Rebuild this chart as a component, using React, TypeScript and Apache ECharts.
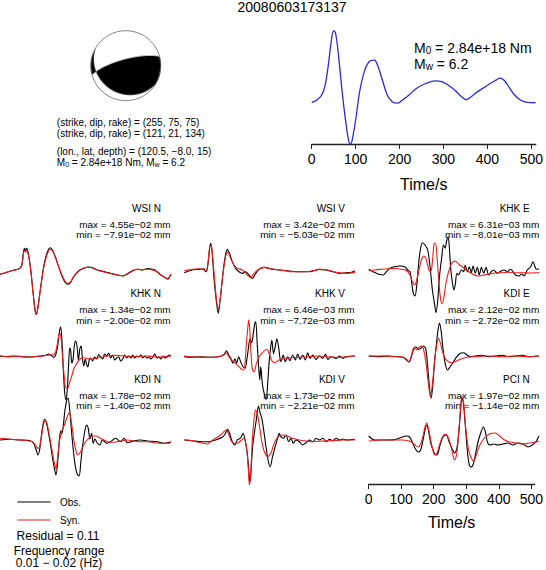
import React, { useEffect, useRef } from 'react';
import * as echarts from 'echarts';

// ---------------- data ----------------
const TITLE = '20080603173137';
const FM1 = [255, 75, 75];
const FM2 = [121, 21, 134];
const LOCATION = ['120.5', '−8.0', '15'];
const M0_TEXT = '2.84e+18';
const MW_TEXT = '6.2';
const RESIDUAL = '0.11';
const FREQ = ['0.01', '0.02'];
const timeTicks = [0, 100, 200, 300, 400, 500];

const stfTime = [0, 11.2, 22.4, 29.9, 37.4, 44.9, 50.1, 54.6, 62.1, 69.6, 77.1, 84.6, 88.4, 93.6, 101.1, 108.6, 119.8, 131.1, 142.3, 149.8, 161, 172.3, 183.5, 194.8, 206, 221, 239.7, 258.5, 281, 296, 311, 326, 341, 352, 363, 378, 393, 408, 419.6, 429, 438, 449.6, 460.8, 475.8, 490.8, 509.5];
const stfValue = [0, 0.03, 0.1, 0.22, 0.5, 0.87, 1.0, 0.96, 0.59, 0.13, -0.25, -0.55, -0.58, -0.48, -0.2, 0.13, 0.43, 0.57, 0.59, 0.52, 0.31, 0.1, 0.01, -0.01, 0.03, 0.1, 0.2, 0.26, 0.3, 0.29, 0.24, 0.17, 0.08, 0.04, 0.08, 0.15, 0.21, 0.27, 0.31, 0.34, 0.31, 0.21, 0.11, 0.03, 0, -0.005];

const stations = ['WSI N', 'WSI V', 'KHK E', 'KHK N', 'KHK V', 'KDI E', 'KDI N', 'KDI V', 'PCI N'];
const maxLabels = ['4.55e−02', '3.42e−02', '6.31e−03', '1.34e−02', '6.46e−03', '2.12e−02', '1.78e−02', '1.73e−02', '1.97e−02'];
const minLabels = ['−7.91e−02', '−5.03e−02', '−8.01e−03', '−2.00e−02', '−7.72e−03', '−2.72e−02', '−1.40e−02', '−2.21e−02', '−1.14e−02'];

// waveforms: [time s, relative amplitude]
const wsiN_obs = [[0,-1],[20,1],[40,3],[58,4.7],[65,8.3],[70,21],[73,25],[77,22.5],[80,25],[85,19],[92,3],[98,-17],[104,-35],[108,-41],[113,-34],[120,-17],[130,6.5],[138,18],[145,24],[150,25.5],[157,23],[165,16.5],[175,6.5],[185,-3],[195,-9.5],[202,-11],[210,-9.3],[220,-3.3],[235,2.3],[250,5],[265,6.3],[275,5.7],[290,3.3],[310,1.7],[330,0],[350,-1.7],[368,-2.7],[380,-0.7],[395,2.3],[410,4],[425,3.3],[440,4.7],[455,4],[465,2.7],[480,-1.7],[495,-5],[500,-6],[505,-4],[510,-0.7]];
const wsiN_syn = [[0,-1],[20,1],[40,3],[58,4.7],[65,8],[70,19.5],[73,23],[77,21],[80,22],[86,16],[92,2],[98,-18],[104,-36],[108,-41.5],[113,-35],[120,-17.5],[130,5],[138,16],[145,22.5],[150,24],[157,22],[165,16],[175,6.5],[185,-2],[195,-8.5],[202,-10],[210,-8.7],[220,-3],[235,2.7],[250,5.3],[265,6],[275,5.3],[290,3.3],[310,1.3],[330,-0.3],[350,-1.7],[368,-2.3],[380,-0.3],[395,2.7],[410,4],[425,3.7],[440,4],[455,3.3],[465,2],[480,-2],[495,-4.7],[500,-5.3],[505,-3.5],[510,-1.5]];
const wsiV_obs = [[1,-1],[24,1.7],[44,2.3],[59,3],[64,0],[69,2.3],[74,15],[79,28.3],[84,20],[89,-5],[96,-28],[102,-41.7],[108,-28],[114,-8.3],[122,13.3],[129,22.3],[136,18],[144,10],[154,3.3],[164,0],[174,-1.7],[184,0],[194,-3.3],[204,-6.7],[214,-1.7],[224,2.3],[239,4.3],[259,2.7],[284,1.7],[314,0.7],[344,0],[374,0],[404,2.3],[424,1.7],[444,0],[464,-1.7],[484,-1],[500,-0.5],[510,1]];
const wsiV_syn = [[1,1],[24,2.3],[44,3],[59,1.7],[66,0.7],[72,10],[78,26.7],[82,25],[88,5],[96,-25],[102,-38],[108,-26.7],[116,-3.3],[124,15],[131,20],[139,13.3],[149,6.7],[159,3.3],[174,1.7],[189,-3.3],[199,-5.7],[209,-1.7],[222,2.3],[239,4.3],[264,2.7],[294,1.3],[324,0],[354,0],[384,0.7],[404,2.3],[429,1.7],[454,-0.7],[484,-1.7],[510,-0.7]];
const khkE_obs = [[0,0.7],[13,-1.7],[28,-4],[43,-5],[53,-1.7],[63,1.7],[78,3.3],[93,4],[108,3.3],[116,0],[123,-1.7],[128,-11.7],[133,-23.3],[138,-26],[143,-16.7],[148,3.3],[154,20],[160,27.3],[168,25],[176,20],[183,3.3],[190,-20],[196,-33.3],[201,-42.7],[206,-30],[211,-6.7],[218,13.3],[223,25],[228,21.7],[233,30],[237,33.3],[241,20],[245,0],[250,-13.3],[254,-20],[258,-15],[263,-3.3],[268,-5],[276,0],[283,-1.7],[288,5],[294,-1.7],[300,3.3],[306,-2.7],[311,4],[318,-3.3],[324,2.7],[330,-5],[336,2.7],[343,-3.3],[350,2.7],[358,-5],[366,-1.5],[373,0],[383,-3.3],[393,-1.5],[403,0],[413,-1.5],[423,0.7],[430,-1.5],[438,-5],[448,-6],[456,-4],[463,-6],[473,0],[483,3.3],[490,8.3],[496,3.3],[500,0.7],[508,1.3]];
const khkE_syn = [[0,-1],[18,0],[38,0.7],[58,1.3],[78,1.7],[98,0.7],[113,-0.7],[123,-5],[131,-12],[137,-15],[144,-9],[152,3],[158,11],[164,14],[170,12],[176,5],[182,-2],[187,0],[191,12],[195,26],[199,27],[204,12],[209,-10],[214,-28],[219,-34],[224,-28],[230,-14],[238,-2],[248,7],[258,9],[268,6],[280,3],[295,-1],[310,-4],[325,-6],[340,-5.3],[360,-4],[380,-3],[400,-2.7],[420,-2.3],[440,-2.7],[460,-2.7],[480,-3],[500,-2.7],[508,-2.5]];
const khkN_obs = [[0,0],[20,-0.7],[40,0],[60,-0.3],[80,-1],[100,-0.7],[120,0],[135,0.5],[145,2],[152,1],[160,-1.3],[166,1],[172,10],[177,24],[181,29],[185,14],[189,-15],[193,-37],[197,-44],[201,-32],[205,-6],[208,8],[211,5],[214,-7],[218,-3],[222,11],[226,15],[230,9],[234,-4],[238,7],[242,10],[246,-3],[250,-10],[254,-3],[258,-8],[262,-11],[266,-4],[270,-2],[276,-5],[282,-1],[288,-3],[294,1.5],[300,-1],[306,-3],[312,2],[318,0],[324,3],[330,-2],[336,1],[342,-4],[348,-2],[354,-1],[360,-5],[366,-3],[372,1],[378,-2],[384,0],[390,-2],[396,1],[402,-2],[408,0],[414,-1],[420,1],[426,-2],[432,0],[438,-2],[444,-1],[450,-3],[456,-1],[462,2],[468,-2],[474,-1],[480,-3],[486,0],[492,-2],[498,-1],[504,1],[510,0]];
const khkN_syn = [[0,0],[30,-0.7],[60,-0.7],[90,-1],[120,-0.3],[140,0.7],[150,1],[160,1.3],[166,4],[171,12],[175,20],[179,23],[183,15],[187,-3],[192,-22],[197,-32],[202,-32],[208,-26],[214,-20],[220,-13],[228,-8],[236,-4],[245,-2],[255,-2],[265,-3],[280,-2.7],[300,-1.3],[320,0],[340,0.7],[360,0.3],[380,-0.3],[400,-0.7],[420,-0.3],[440,0],[460,-0.7],[480,-1],[500,-0.3],[510,0]];
const khkV_obs = [[0,0],[20,-0.5],[50,0],[80,-0.5],[110,0.5],[120,2.5],[127,6],[133,2],[140,-2],[146,-6.5],[152,-2],[157,-6.5],[163,0],[169,-5],[176,-10],[182,-11.5],[187,-4],[192,8],[197,18],[202,14],[207,24],[211,33],[214,35],[218,15],[222,-6.7],[226,-23],[229,-10],[234,-28],[240,-38],[245,-43],[250,-25],[254,-5],[258,8],[262,16.7],[267,3],[272,10],[277,18],[282,10],[289,-5],[296,1.7],[302,-5],[309,0],[316,-4],[324,1.7],[332,-3.3],[339,2.7],[346,-2.7],[354,1.7],[362,-3.3],[369,4],[376,-1.7],[384,1.7],[394,-2.7],[404,0.7],[414,-1.7],[422,2.7],[429,-2.7],[439,0],[454,-1.7],[464,0.7],[474,-1.7],[484,0],[510,0.7]];
const khkV_syn = [[0,0.7],[24,0],[64,-0.7],[104,0],[119,1.7],[126,4],[134,0],[144,-4],[154,-6.7],[164,-10],[172,-12.7],[178,-13.3],[182,-6.7],[186,13],[190,28],[193,37],[196,28],[200,2],[204,-13],[209,-15],[216,-6.7],[224,0],[232,3.3],[240,6],[247,7.5],[255,2],[262,-4],[270,-6],[285,-3],[300,-2],[320,-1],[340,-0.7],[370,0],[400,0.7],[430,0],[460,-0.7],[490,0],[510,0.7]];
const kdiE_obs = [[0,0],[28,-0.7],[58,0],[88,-0.7],[103,-1.3],[113,-4],[120,-6.3],[126,-2.3],[133,6],[140,9.3],[148,6.7],[156,7.7],[163,10],[170,7.7],[176,-10.7],[181,-30.7],[186,-42.3],[191,-30],[196,-7.3],[201,9.3],[206,24],[211,33],[216,25],[222,6],[228,-7.3],[235,-14],[243,-10.7],[253,-5.7],[263,-0.7],[273,2.7],[283,3.3],[293,1],[303,-0.7],[318,0],[338,0.7],[358,-0.7],[378,0],[398,0.7],[418,-0.7],[438,0],[458,0.7],[478,-0.7],[508,0]];
const kdiE_syn = [[0,0],[38,0],[78,-0.7],[103,-1.3],[113,-3.3],[120,-5.7],[128,1],[135,8.7],[143,6],[150,8.7],[158,10],[164,6],[171,-7.3],[178,-27.3],[184,-40.7],[190,-28],[196,-7.3],[202,9.3],[208,17.7],[214,12.7],[220,4.3],[228,-2.3],[238,-5.7],[248,-6.7],[258,-5.7],[273,-3.3],[293,-1.3],[318,-0.7],[358,0],[398,-0.7],[438,0],[478,-0.7],[508,0]];
const kdiN_obs = [[0,0],[30,0.7],[60,0],[90,-0.7],[100,-3.3],[108,-10],[113,-15],[118,-10],[123,3.3],[128,15],[133,20.7],[138,18],[143,10],[150,-3.3],[156,-16.7],[162,-28],[167,-35],[172,-22],[177,0],[181,9],[184,6],[188,12],[193,28],[198,38],[203,42],[208,30],[213,10],[218,-8],[224,-25],[230,-34],[236,-36],[241,-22],[247,-4],[253,9],[258,15],[263,12],[268,1],[273,6.7],[278,-3.3],[283,1],[290,-3],[298,-5],[305,0],[318,-3.3],[330,-1.7],[345,1.7],[360,-1.7],[370,1.7],[380,-2.7],[400,-0.7],[420,0],[440,-1],[470,-1.7],[490,-3.3],[510,-1.7]];
const kdiN_syn = [[0,1.7],[30,0.7],[60,0],[90,-1],[100,-2.7],[110,-7.3],[115,-8.3],[122,0],[128,13],[135,19.3],[140,16.7],[148,3.3],[155,-10],[162,-23],[167,-29],[172,-16.7],[178,0],[185,10],[192,15],[200,23],[206,27],[212,20],[220,0],[226,-10],[232,-15],[238,-13],[245,-8.3],[255,-1.7],[265,1.7],[275,4],[285,4],[300,1.7],[320,-1.7],[340,-2.3],[360,-1],[380,0],[400,-1],[420,-1.7],[440,-1.7],[460,-2.7],[480,-3.3],[500,-3.3],[510,-2.7]];
const kdiV_obs = [[1,0],[24,-0.7],[54,-1.7],[74,-1.7],[94,0],[114,2.7],[124,6.7],[130,10.7],[136,6.7],[144,-1.7],[152,-5],[159,0],[169,2],[176,6.7],[182,0],[189,-14],[194,-34],[197,-42],[201,-25],[205,-5],[209,5],[216,21],[222,34],[227,27],[232,22],[239,6.7],[246,-10],[252,-22],[257,-27],[264,-16.7],[272,-6.7],[279,1.7],[284,6.7],[289,3.3],[296,1.7],[304,5],[312,-1.7],[319,1.7],[326,-3.3],[334,0],[344,-1.7],[354,-5],[364,-2.7],[374,0],[384,-1.7],[394,1.7],[404,0],[414,1.7],[424,-1.7],[434,0.7],[444,-0.7],[454,1.7],[464,0],[474,1],[484,0],[510,0.7]];
const kdiV_syn = [[1,0],[24,-0.7],[44,-2.3],[59,-3.3],[69,-4],[79,-1.7],[94,1.7],[109,5],[119,8.3],[127,10],[134,5],[142,-1.7],[152,-3.3],[162,-2.7],[172,0],[179,1.7],[186,-6.7],[191,-25],[195,-45],[199,-34],[203,-5],[208,18],[213,30],[218,27],[225,14],[233,-3.3],[241,-13],[250,-16.7],[259,-13.3],[269,-3.3],[279,2.7],[294,5],[309,4],[324,1.7],[344,0],[364,-1],[384,-1.7],[414,-1],[444,-0.7],[474,0],[510,0]];
const pciN_obs = [[0,4],[8,1.5],[18,0],[40,0],[60,0],[80,0.5],[98,2.7],[112,4],[122,3],[130,-2],[138,-8],[148,-12],[155,-10],[162,0],[168,10],[173,15],[178,10],[185,-3],[192,-10],[200,-15],[206,-14],[212,-6],[220,2],[228,5],[234,4],[240,-2],[248,-8],[256,-13],[262,-10],[268,5],[273,25],[278,42],[282,38],[288,15],[294,-10],[300,-25],[306,-27],[312,-24],[318,-15],[326,-2],[334,7],[342,13],[348,8],[355,-3],[362,-5],[372,-4],[385,-5],[400,-4],[415,-3],[430,-5],[445,-3],[460,-4],[475,-7],[488,-5],[498,-2],[508,4]];
const pciN_syn = [[0,-1],[20,-0.5],[40,0],[60,0],[80,0],[100,0],[115,-0.5],[128,-2],[138,-5],[148,-7],[155,-4],[162,4],[168,13],[173,17],[178,12],[185,0],[192,-11],[198,-15],[205,-12],[212,-4],[220,3],[228,6],[233,5],[240,0],[248,-10],[256,-20],[262,-15],[268,5],[273,28],[278,44],[283,38],[290,10],[298,-10],[306,-18],[313,-21],[320,-16],[330,-6],[345,2],[360,6],[378,7],[390,4],[405,0],[420,-2],[440,-3],[460,-4],[480,-3],[500,-2],[508,-1]];

const obsTraces = [wsiN_obs, wsiV_obs, khkE_obs, khkN_obs, khkV_obs, kdiE_obs, kdiN_obs, kdiV_obs, pciN_obs];
const synTraces = [wsiN_syn, wsiV_syn, khkE_syn, khkN_syn, khkV_syn, kdiE_syn, kdiN_syn, kdiV_syn, pciN_syn];

// ---------------- layout ----------------
const FONT = '"Liberation Sans", Arial, Helvetica, sans-serif';
const COL_X = [0, 184, 368.7];
const COL_W = 171;
const BASE = [273.3, 271.7, 270, 356, 356.7, 356, 440, 440, 440];
const ROW_LABEL_Y = [208, 293.5, 379];
const HALF = 60;
const BB = { cx: 125.8, cy: 65.7, r: 35 };

function beachball(fm: number[], size: number): string {
  const rad = Math.PI / 180;
  const S = fm[0] * rad, D = fm[1] * rad, R = fm[2] * rad;
  const sd = Math.sin(D), cd = Math.cos(D), s2d = Math.sin(2 * D), c2d = Math.cos(2 * D);
  const sr = Math.sin(R), cr = Math.cos(R);
  const ss = Math.sin(S), cs = Math.cos(S), s2s = Math.sin(2 * S), c2s = Math.cos(2 * S);
  const mxx = -(sd * cr * s2s + s2d * sr * ss * ss);
  const myy = sd * cr * s2s - s2d * sr * cs * cs;
  const mzz = s2d * sr;
  const mxy = sd * cr * c2s + 0.5 * s2d * sr * s2s;
  const mxz = -(cd * cr * cs + c2d * sr * ss);
  const myz = -(cd * cr * ss - c2d * sr * cs);
  const c = document.createElement('canvas');
  c.width = size; c.height = size;
  const ctx = c.getContext('2d')!;
  const img = ctx.createImageData(size, size);
  const h = size / 2;
  for (let py = 0; py < size; py++) {
    for (let px = 0; px < size; px++) {
      const dx = (px + 0.5 - h) / h, dy = (py + 0.5 - h) / h;
      const r2 = dx * dx + dy * dy;
      const k = (py * size + px) * 4;
      if (r2 > 1) { img.data[k + 3] = 0; continue; }
      const r = Math.sqrt(r2);
      const inc = 2 * Math.asin(Math.min(1, r / Math.SQRT2));
      const az = Math.atan2(dx, -dy);
      const n1 = Math.sin(inc) * Math.cos(az), n2 = Math.sin(inc) * Math.sin(az), n3 = Math.cos(inc);
      const A = mxx * n1 * n1 + myy * n2 * n2 + mzz * n3 * n3 + 2 * (mxy * n1 * n2 + mxz * n1 * n3 + myz * n2 * n3);
      const v = A > 0 ? 0 : 255;
      img.data[k] = v; img.data[k + 1] = v; img.data[k + 2] = v; img.data[k + 3] = 255;
    }
  }
  ctx.putImageData(img, 0, 0);
  return c.toDataURL();
}

function txt(x: number, y: number, text: string, size: number, align = 'left', lineHeight?: number, scaleX = 1) {
  return {
    type: 'text', x, y, scaleX, silent: true,
    style: {
      text, fontSize: size, fontFamily: FONT, fill: '#000', align, verticalAlign: 'middle',
      lineHeight: lineHeight ?? Math.round(size * 1.15),
    },
  };
}

function buildOption() {
  const grids: any[] = [];
  const xAxes: any[] = [];
  const yAxes: any[] = [];
  const series: any[] = [];
  const graphics: any[] = [];

  stations.forEach((name, i) => {
    const col = i % 3, row = Math.floor(i / 3);
    const x0 = COL_X[col];
    grids.push({ left: x0, top: BASE[i] - HALF, width: COL_W, height: 2 * HALF });
    xAxes.push({ gridIndex: i, type: 'value', min: 0, max: 510, show: false });
    yAxes.push({ gridIndex: i, type: 'value', min: -HALF, max: HALF, show: false });
    series.push({
      type: 'line', name: 'Obs.', xAxisIndex: i, yAxisIndex: i, data: obsTraces[i],
      showSymbol: false, smooth: 0.3, lineStyle: { color: '#000', width: 1.1 }, silent: true, z: 2,
    });
    series.push({
      type: 'line', name: 'Syn.', xAxisIndex: i, yAxisIndex: i, data: synTraces[i],
      showSymbol: false, smooth: 0.3, lineStyle: { color: '#ee1c1c', width: 1.1 }, silent: true, z: 3,
    });
    const ly = ROW_LABEL_Y[row];
    graphics.push(txt(x0 + 161, ly, name, 10, 'right', 10));
    graphics.push(txt(x0 + 170.5, ly + 16.3, 'max = ' + maxLabels[i] + ' mm', 9.3, 'right', 9, 1.07));
    graphics.push(txt(x0 + 170.5, ly + 26.8, 'min = ' + minLabels[i] + ' mm', 9.3, 'right', 9, 1.07));
  });

  // STF grid (index 9)
  grids.push({ left: 311.7, top: 30.7, width: 227, height: 113.3 });
  const axisCommon = {
    type: 'value', min: 0, max: 510,
    axisLine: { show: true, onZero: false, lineStyle: { color: '#222', width: 1.3 } },
    axisTick: { show: true, length: 5, customValues: timeTicks, lineStyle: { color: '#222', width: 1 } },
    axisLabel: { customValues: timeTicks, fontSize: 14, color: '#000', margin: 8, fontFamily: FONT },
    splitLine: { show: false },
    name: 'Time/s', nameLocation: 'middle',
    nameTextStyle: { fontSize: 16, color: '#000', fontFamily: FONT },
  };
  xAxes.push({ ...axisCommon, gridIndex: 9, nameGap: 32 });
  yAxes.push({ gridIndex: 9, type: 'value', min: -0.58, max: 1.0, show: false });
  series.push({
    type: 'line', name: 'STF', xAxisIndex: 9, yAxisIndex: 9,
    data: stfTime.map((t, k) => [t, stfValue[k]]),
    showSymbol: false, smooth: 0.4, lineStyle: { color: '#2b2bd9', width: 1.3 }, silent: true,
  });

  // bottom time axis (index 10)
  grids.push({ left: COL_X[2], top: 474, width: COL_W, height: 10 });
  xAxes.push({ ...axisCommon, gridIndex: 10, nameGap: 30 });
  yAxes.push({ gridIndex: 10, type: 'value', min: 0, max: 1, show: false });

  // title and info
  graphics.push(txt(292, 6.5, TITLE, 14, 'center', 13));
  const ix = 56.8;
  graphics.push(txt(ix, 122, `(strike, dip, rake) = (${FM1.join(', ')})`, 10, 'left', 10));
  graphics.push(txt(ix, 133.4, `(strike, dip, rake) = (${FM2.join(', ')})`, 10, 'left', 10));
  graphics.push(txt(ix, 151.6, `(lon., lat, depth) = (${LOCATION.join(', ')})`, 10, 'left', 10));
  graphics.push({
    type: 'text', x: ix, y: 162.7, silent: true,
    style: {
      text: `{a|M}{s|0}{a| = ${M0_TEXT} Nm, M}{s|w}{a| = ${MW_TEXT}}`,
      fontFamily: FONT, fill: '#000', verticalAlign: 'middle',
      rich: {
        a: { fontSize: 10, lineHeight: 11, fontFamily: FONT, fill: '#000' },
        s: { fontSize: 7, lineHeight: 8, fontFamily: FONT, fill: '#000', verticalAlign: 'bottom' },
      },
    },
  });
  graphics.push({
    type: 'text', x: 414, y: 48.3, silent: true,
    style: {
      text: `{a|M}{s|0}{a| = ${M0_TEXT} Nm}`,
      fontFamily: FONT, fill: '#000', verticalAlign: 'middle',
      rich: {
        a: { fontSize: 14, lineHeight: 15, fontFamily: FONT, fill: '#000' },
        s: { fontSize: 10, lineHeight: 10, fontFamily: FONT, fill: '#000', verticalAlign: 'bottom' },
      },
    },
  });
  graphics.push({
    type: 'text', x: 414, y: 64, silent: true,
    style: {
      text: `{a|M}{s|w}{a| = ${MW_TEXT}}`,
      fontFamily: FONT, fill: '#000', verticalAlign: 'middle',
      rich: {
        a: { fontSize: 14, lineHeight: 15, fontFamily: FONT, fill: '#000' },
        s: { fontSize: 10, lineHeight: 10, fontFamily: FONT, fill: '#000', verticalAlign: 'bottom' },
      },
    },
  });

  // beachball
  const url = beachball(FM1, BB.r * 8);
  graphics.push({
    type: 'image', silent: true,
    style: { image: url, x: BB.cx - BB.r, y: BB.cy - BB.r, width: BB.r * 2, height: BB.r * 2 },
  });
  graphics.push({
    type: 'circle', silent: true,
    shape: { cx: BB.cx, cy: BB.cy, r: BB.r },
    style: { fill: 'none', stroke: '#666', lineWidth: 0.8 },
  });

  // legend
  graphics.push({ type: 'line', silent: true, shape: { x1: 17.4, y1: 502, x2: 50.5, y2: 502 }, style: { stroke: '#000', lineWidth: 1.2 } });
  graphics.push(txt(60, 502, 'Obs.', 10, 'left', 10));
  graphics.push({ type: 'line', silent: true, shape: { x1: 17.4, y1: 520, x2: 50.5, y2: 520 }, style: { stroke: '#ee1c1c', lineWidth: 1.2 } });
  graphics.push(txt(60, 520, 'Syn.', 10, 'left', 10));
  graphics.push(txt(58, 536, `Residual = ${RESIDUAL}`, 12, 'center', 12));
  graphics.push(txt(59, 550.5, 'Frequency range', 12, 'center', 12));
  graphics.push(txt(59, 563, `${FREQ[0]} − ${FREQ[1]} (Hz)`, 12, 'center', 12));

  return {
    animation: false,
    backgroundColor: '#fff',
    textStyle: { fontFamily: FONT },
    grid: grids,
    xAxis: xAxes,
    yAxis: yAxes,
    series,
    graphic: { elements: graphics },
  };
}

export default function App() {
  const ref = useRef<HTMLDivElement>(null);
  useEffect(() => {
    if (!ref.current) return;
    const chart = echarts.init(ref.current, null, { renderer: 'svg' });
    chart.setOption(buildOption() as any);
    return () => chart.dispose();
  }, []);
  return (
    <div
      ref={ref}
      style={{ position: 'fixed', left: 0, top: 0, width: 546, height: 570, background: '#fff' }}
    />
  );
}
